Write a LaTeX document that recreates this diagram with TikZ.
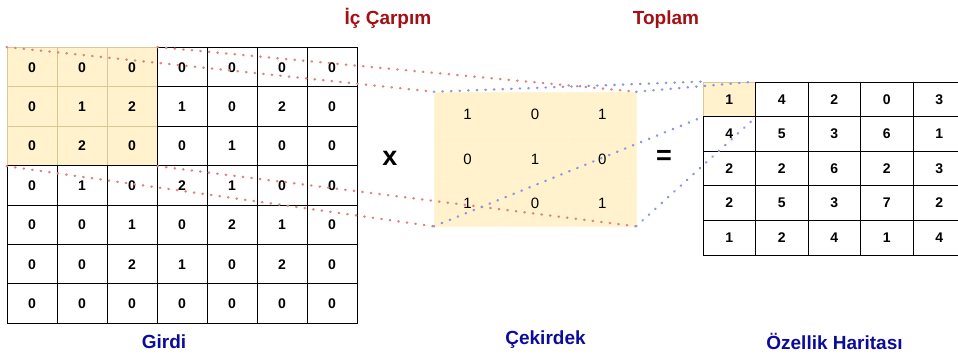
\documentclass[tikz,border=0pt]{standalone}
\usepackage{fontspec}
\setmainfont{Liberation Sans}

\definecolor{hl}{HTML}{FFF2CC}
\definecolor{hlline}{HTML}{D9C796}
\definecolor{redlbl}{HTML}{A30F12}
\definecolor{bluelbl}{HTML}{0B0B9E}
\definecolor{reddot}{HTML}{E6807C}
\definecolor{bluedot}{HTML}{8A96E2}

\begin{document}
\begin{tikzpicture}[x=1pt,y=-1pt,
  num/.style={font=\bfseries\fontsize{14}{14}\selectfont},
  incell/.style={num, draw=black, line width=0.9pt, fill=white, inner sep=0pt,
    minimum width=50pt, minimum height=39.4pt},
  inhl/.style={incell, draw=hlline, fill=hl},
  kercell/.style={draw=white!20!hl, line width=0.5pt, fill=hl, inner sep=0pt,
    minimum width=67.3pt, minimum height=44.7pt,
    font=\fontsize{15}{15}\selectfont},
  outcell/.style={num, draw=black, line width=0.9pt, fill=white, inner sep=0pt,
    minimum width=52.5pt, minimum height=34.6pt},
  outhl/.style={outcell, draw=hlline, fill=hl},
  redlabel/.style={anchor=base, text=redlbl, font=\bfseries\fontsize{19}{19}\selectfont},
  bluelabel/.style={anchor=base, text=bluelbl, font=\bfseries\fontsize{19}{19}\selectfont},
  oper/.style={font=\bfseries\fontsize{27}{27}\selectfont, inner sep=0pt},
  reddots/.style={draw=reddot, line width=2.4pt, line cap=round, dash pattern=on 0.5pt off 8.1pt},
  bluedots/.style={draw=bluedot, line width=2.4pt, line cap=round, dash pattern=on 0.5pt off 8.1pt}
]
\useasboundingbox (0,0) rectangle (958,358);
\clip (0,0) rectangle (958,358);

% input matrix (7x7), top-left 3x3 window highlighted
\foreach[count=\r] \row in {{0,0,0,0,0,0,0},{0,1,2,1,0,2,0},{0,2,0,0,1,0,0},
    {0,1,0,2,1,0,0},{0,0,1,0,2,1,0},{0,0,2,1,0,2,0},{0,0,0,0,0,0,0}}
  \foreach[count=\c] \v in \row {
    \def\sty{incell}
    \ifnum\r<4 \ifnum\c<4 \def\sty{inhl}\fi\fi
    \node[\sty] (in-\r-\c) at ({7+50*(\c-0.5)},{47.5+39.4*(\r-0.5)}) {\v};
  }

% kernel (3x3)
\foreach[count=\r] \row in {{1,0,1},{0,1,0},{1,0,1}}
  \foreach[count=\c] \v in \row
    \node[kercell] (ker-\r-\c) at ({434+67.3*(\c-0.5)},{92+44.7*(\r-0.5)}) {\v};

% feature map (5x5), first entry highlighted
\foreach[count=\r] \row in {{1,4,2,0,3},{4,5,3,6,1},{2,2,6,2,3},{2,5,3,7,2},{1,2,4,1,4}}
  \foreach[count=\c] \v in \row {
    \def\sty{outcell}
    \ifnum\r=1 \ifnum\c=1 \def\sty{outhl}\fi\fi
    \node[\sty] (out-\r-\c) at ({703+52.5*(\c-0.5)},{82+34.6*(\r-0.5)}) {\v};
  }

% operators
\node[oper] (times) at (390,158) {x};
\node[oper] (equals) at (664,157) {=};

% titles
\node[redlabel] (dotlbl) at (388,24.5) {İç Çarpım};
\node[redlabel] (sumlbl) at (666,24.5) {Toplam};
\node[bluelabel] (inlbl) at (164,348) {Girdi};
\node[bluelabel] (kerlbl) at (545.5,344) {Çekirdek};
\node[bluelabel] (outlbl) at (834.5,349.5) {Özellik Haritası};

% window -> kernel
\draw[reddots] (in-1-1.north west) -- (ker-1-1.north west);
\draw[reddots] (in-1-3.north east) -- (ker-1-3.north east);
\draw[reddots] (in-3-1.south west) -- (ker-3-1.south west);
\draw[reddots] (in-3-3.south east) -- (ker-3-3.south east);

% kernel -> feature map entry
\draw[bluedots] (ker-1-1.north west) -- (out-1-1.north west);
\draw[bluedots] (ker-1-3.north east) -- (out-1-1.north east);
\draw[bluedots] (ker-3-1.south west) -- (out-1-1.south west);
\draw[bluedots] (ker-3-3.south east) -- (out-1-1.south east);
\end{tikzpicture}
\end{document}
